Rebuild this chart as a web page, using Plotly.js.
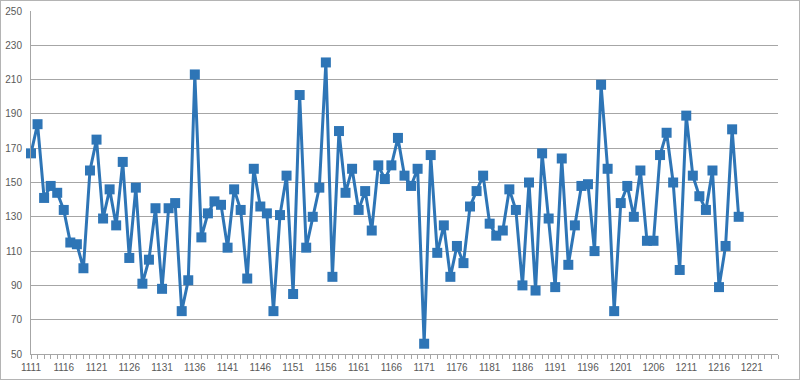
<!DOCTYPE html>
<html>
<head>
<meta charset="utf-8">
<script src="https://cdn.plot.ly/plotly-3.0.1.min.js"></script>
<style>
html,body{margin:0;padding:0;background:#fff;}
#wrap{width:800px;height:380px;box-sizing:border-box;border:1px solid #b4b4b4;overflow:hidden;}
#chart{width:798px;height:378px;}
</style>
</head>
<body>
<div id="wrap"><div id="chart"></div></div>
<script>
// Categories: 1111 .. 1219
const startCategory = 1111;
const values = [
  167, 184, 141, 148, 144, 134, 115, 114, 100, 157,
  175, 129, 146, 125, 162, 106, 147, 91, 105, 135,
  88, 135, 138, 75, 93, 213, 118, 132, 139, 137,
  112, 146, 134, 94, 158, 136, 132, 75, 131, 154,
  85, 201, 112, 130, 147, 220, 95, 180, 144, 158,
  134, 145, 122, 160, 152, 160, 176, 154, 148, 158,
  56, 166, 109, 125, 95, 113, 103, 136, 145, 154,
  126, 119, 122, 146, 134, 90, 150, 87, 167, 129,
  89, 164, 102, 125, 148, 149, 110, 207, 158, 75,
  138, 148, 130, 157, 116, 116, 166, 179, 150, 99,
  189, 154, 142, 134, 157, 89, 113, 181, 130
];
const categories = values.map((v, i) => startCategory + i);
const tickValues = [1111,1116,1121,1126,1131,1136,1141,1146,1151,1156,1161,1166,1171,1176,1181,1186,1191,1196,1201,1206,1211,1216,1221];
const tickLabels = tickValues.map(String);
const yTicks = [50,70,90,110,130,150,170,190,210,230,250];

const blue = '#2E75B6';
const trace = {
  x: categories,
  y: values,
  type: 'scatter',
  mode: 'lines+markers',
  cliponaxis: false,
  line: {color: blue, width: 3},
  marker: {symbol: 'square', size: 10, color: blue},
  hoverinfo: 'x+y'
};

const layout = {
  width: 798,
  height: 378,
  margin: {l: 29.5, r: 21, t: 9.7, b: 24.6, pad: 0},
  paper_bgcolor: '#ffffff',
  plot_bgcolor: '#ffffff',
  showlegend: false,
  font: {family: 'Liberation Sans, Arial, sans-serif', size: 10, color: '#595959'},
  xaxis: {
    type: 'linear',
    range: [1111, 1225],
    tickmode: 'array',
    tickvals: tickValues,
    ticktext: tickLabels,
    ticks: 'outside',
    ticklen: 4,
    tickcolor: '#a6a6a6',
    showgrid: false,
    zeroline: false,
    showline: true,
    linecolor: '#a6a6a6',
    linewidth: 1,
    minor: {dtick: 1, tick0: 1111, ticks: 'outside', ticklen: 4, tickcolor: '#a6a6a6', showgrid: false},
    tickfont: {size: 10, color: '#595959'}
  },
  yaxis: {
    range: [50, 250],
    tickmode: 'array',
    tickvals: yTicks,
    ticktext: yTicks.map(String),
    showgrid: true,
    gridcolor: '#a6a6a6',
    gridwidth: 1,
    zeroline: false,
    showline: true,
    linecolor: '#a6a6a6',
    linewidth: 1,
    ticks: '',
    ticklabelstandoff: 6,
    tickfont: {size: 10, color: '#595959'}
  }
};

Plotly.newPlot('chart', [trace], layout, {displayModeBar: false, staticPlot: true});
</script>
</body>
</html>
